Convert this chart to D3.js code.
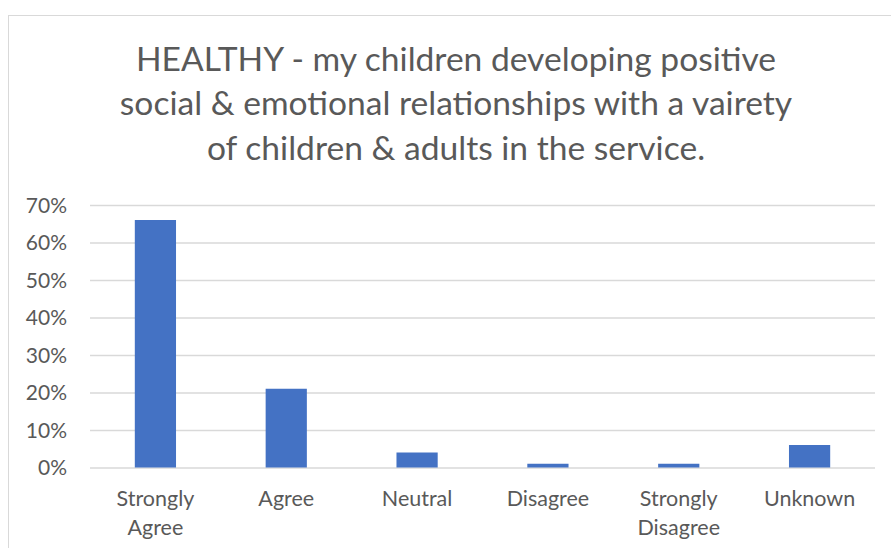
<!DOCTYPE html>
<html>
<head>
<meta charset="utf-8">
<script src="https://cdn.jsdelivr.net/npm/d3@7"></script>
<style>
  body { margin: 0; background: #fff; }
  svg text { font-family: Lato, "Open Sans", sans-serif; fill: #595959; }
</style>
</head>
<body>
<div id="chart"></div>
<script>
//data
var categories = [['Strongly', 'Agree'], ['Agree'], ['Neutral'], ['Disagree'], ['Strongly', 'Disagree'], ['Unknown']];
var values = [0.66, 0.21, 0.04, 0.01, 0.01, 0.06];
var yTicks = [0, 0.1, 0.2, 0.3, 0.4, 0.5, 0.6, 0.7];
var titleLines = [
    'HEALTHY - my children developing positive',
    'social & emotional relationships with a vairety',
    'of children & adults in the service.'
];

//sizes
var outerW = 891,
    outerH = 548,
    margin = {top: 205, right: 16, bottom: 80.5, left: 90};

var w = outerW - margin.left - margin.right,
    h = outerH - margin.top - margin.bottom;

var svg = d3.select('#chart').append('svg')
    .attr('width', outerW)
    .attr('height', outerH);

//chart box
svg.append('rect')
    .attr('x', 8.5)
    .attr('y', 15.5)
    .attr('width', 900)
    .attr('height', 600)
    .attr('fill', 'none')
    .attr('stroke', '#d9d9d9');

//title
svg.append('text')
    .attr('text-anchor', 'middle')
    .style('font-size', '33.6px')
    .selectAll('tspan')
    .data(titleLines)
    .enter().append('tspan')
    .attr('x', 456)
    .attr('y', function(d, i) { return 70.5 + i * 44.5; })
    .text(function(d) { return d; });

var g = svg.append('g')
    .attr('transform', 'translate(' + margin.left + ', ' + margin.top + ')');

//scales
var xScale = d3.scaleBand()
    .domain(d3.range(categories.length))
    .range([0, w]);

var yScale = d3.scaleLinear()
    .domain([0, 0.7])
    .range([h, 0]);

var yAxis = d3.axisLeft(yScale)
    .tickValues(yTicks)
    .tickSize(-w)
    .tickFormat(d3.format('.0%'));

var yAxisG = g.append('g')
    .attr('class', 'y-axis')
    .call(yAxis);

yAxisG.select('.domain').remove();
yAxisG.selectAll('.tick line')
    .attr('stroke', '#d9d9d9')
    .attr('stroke-width', 1.3);
yAxisG.selectAll('.tick text')
    .attr('x', -23)
    .attr('dy', '0.35em')
    .style('font-size', '21px');

//bars
var barW = xScale.bandwidth() * 0.315;

g.selectAll('.bar')
    .data(values)
    .enter().append('rect')
    .attr('class', 'bar')
    .attr('x', function(d, i) { return xScale(i) + xScale.bandwidth() / 2 - barW / 2; })
    .attr('y', function(d) { return yScale(d); })
    .attr('width', barW)
    .attr('height', function(d) { return h - yScale(d); })
    .attr('fill', '#4472c4');

//category labels
g.selectAll('.cat-label')
    .data(categories)
    .enter().append('text')
    .attr('class', 'cat-label')
    .attr('text-anchor', 'middle')
    .style('font-size', '21.5px')
    .each(function(d, i) {
        d3.select(this).selectAll('tspan')
            .data(d)
            .enter().append('tspan')
            .attr('x', xScale(i) + xScale.bandwidth() / 2)
            .attr('y', function(t, j) { return h + 38 + j * 29.3; })
            .text(function(t) { return t; });
    });
</script>
</body>
</html>
